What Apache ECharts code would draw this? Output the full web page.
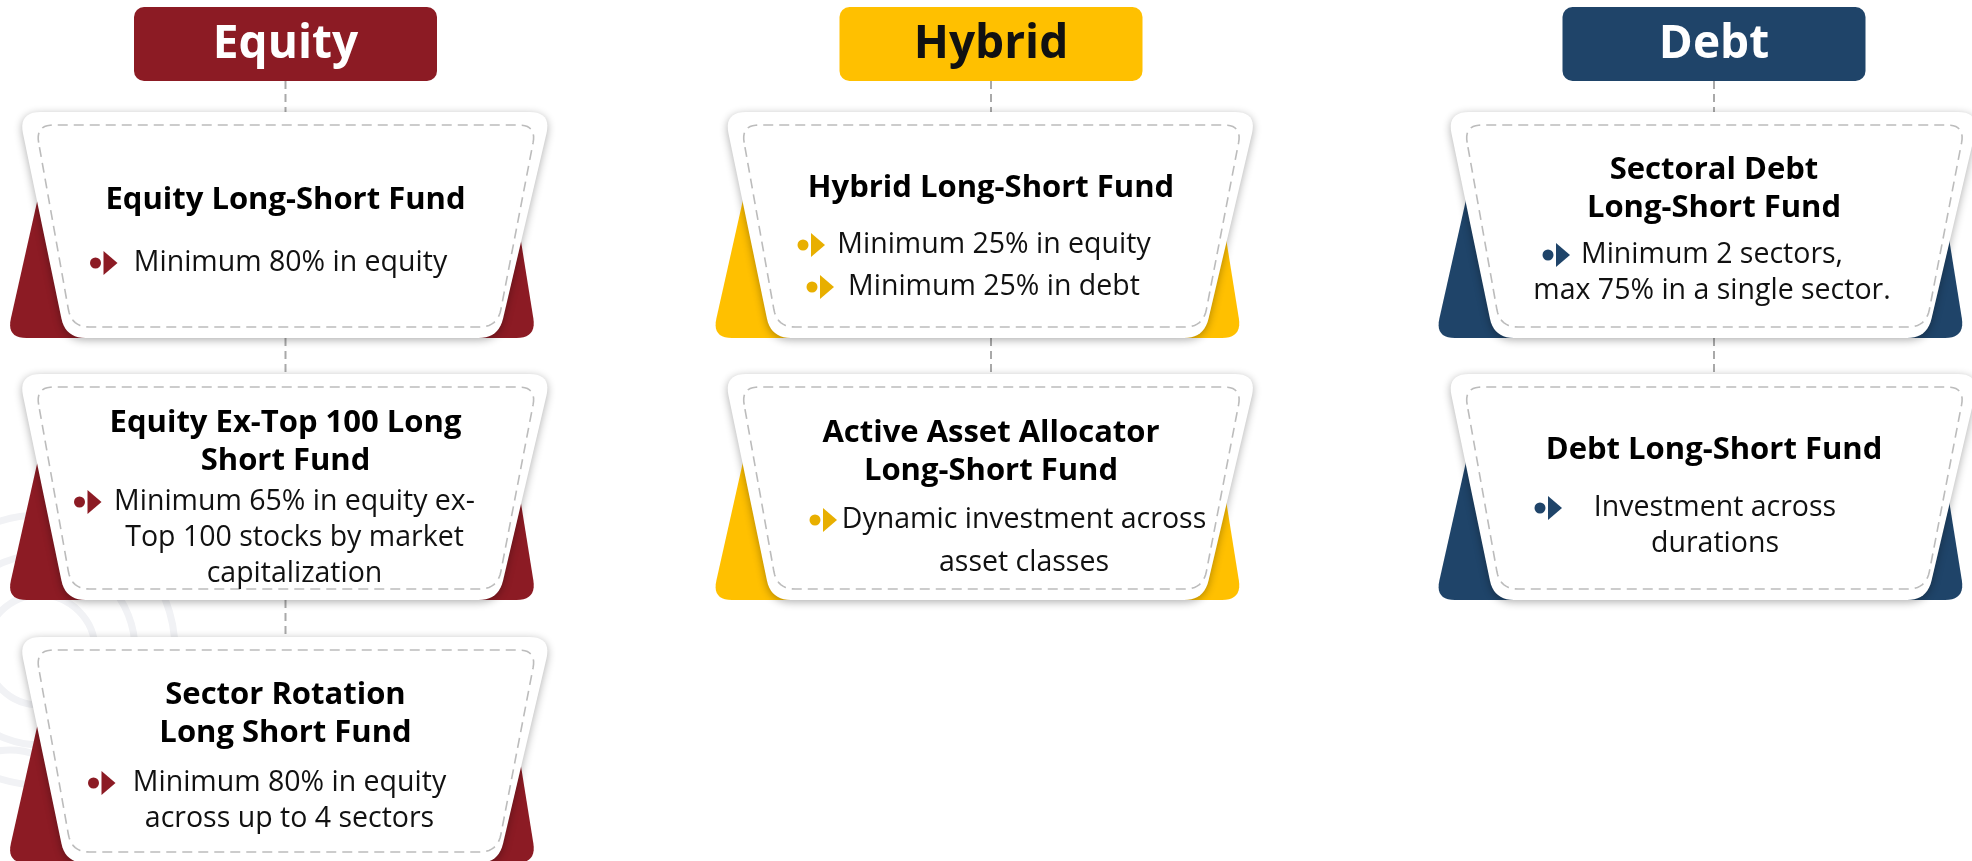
<!DOCTYPE html>
<html>
<head>
<meta charset="utf-8">
<title>Long-Short Fund categories</title>
<script src="https://cdn.jsdelivr.net/npm/echarts@6/dist/echarts.min.js"></script>
<style>
  html, body { margin: 0; padding: 0; background: #ffffff; }
  #chart { width: 1972px; height: 861px; }
</style>
</head>
<body>
<div id="chart"></div>
<script>
// --- content ---
var categories = ['Equity', 'Hybrid', 'Debt'];
var categoryColors = ['#8c1b24', '#ffc000', '#1f4469'];
var headerTextColors = ['#ffffff', '#111111', '#ffffff'];
var iconColors = ['#8c1b24', '#e8af00', '#1f4469'];

var equityFunds = ['Equity Long-Short Fund', 'Equity Ex-Top 100 Long\nShort Fund', 'Sector Rotation\nLong Short Fund'];
var hybridFunds = ['Hybrid Long-Short Fund', 'Active Asset Allocator\nLong-Short Fund'];
var debtFunds = ['Sectoral Debt\nLong-Short Fund', 'Debt Long-Short Fund'];

var equityRules = [['Minimum 80% in equity'], ['Minimum 65% in equity ex-\nTop 100 stocks by market\ncapitalization'], ['Minimum 80% in equity\nacross up to 4 sectors']];
var hybridRules = [['Minimum 25% in equity', 'Minimum 25% in debt'], ['Dynamic investment across\nasset classes']];
var debtRules = [['Minimum 2 sectors,\nmax 75% in a single sector.'], ['Investment across\ndurations']];

var funds = [equityFunds, hybridFunds, debtFunds];
var rules = [equityRules, hybridRules, debtRules];

// --- layout (pixels) ---
var colX = [285.5, 991, 1714];
var rowTop = [112, 374, 637];
var cardH = 226;
// per card: title first-line offset, bullet first-line offsets, text centre shift, icon x shift
var cardLayout = [
  [
    { title: 88, bullets: [151], dx: 5, icon: [-190] },
    { title: 49, bullets: [128], dx: 9, icon: [-206] },
    { title: 58, bullets: [146], dx: 4, icon: [-192] }
  ],
  [
    { title: 76, bullets: [133, 175], dx: 3, icon: [-188], icon2: -179 },
    { title: 59, bullets: [146], dx: 33, icon: [-176] }
  ],
  [
    { title: 58, bullets: [143], dx: -2, icon: [-166] },
    { title: 76, bullets: [134], dx: 1, icon: [-174] }
  ]
];
cardLayout[1][0].icon.push(cardLayout[1][0].icon2);
var titleLH = 38, ruleLH = 36;
var hybridRuleLH = 43;
var titleFont = 'bold 31px "Open Sans", sans-serif';
var ruleFont = '28.5px "Open Sans", sans-serif';

function roundPoly(pts, r) {
  var out = [];
  var n = pts.length;
  for (var i = 0; i < n; i++) {
    var P = pts[i], A = pts[(i - 1 + n) % n], B = pts[(i + 1) % n];
    var rr = Array.isArray(r) ? r[i] : r;
    var ax = A[0] - P[0], ay = A[1] - P[1], la = Math.sqrt(ax * ax + ay * ay);
    var bx = B[0] - P[0], by = B[1] - P[1], lb = Math.sqrt(bx * bx + by * by);
    if (rr <= 0) { out.push(P); continue; }
    var p1 = [P[0] + ax / la * rr, P[1] + ay / la * rr];
    var p2 = [P[0] + bx / lb * rr, P[1] + by / lb * rr];
    for (var s = 0; s <= 10; s++) {
      var t = s / 10, u = 1 - t;
      out.push([u * u * p1[0] + 2 * u * t * P[0] + t * t * p2[0],
                u * u * p1[1] + 2 * u * t * P[1] + t * t * p2[1]]);
    }
  }
  return out;
}

function textEl(x, y, text, font, color, z) {
  return {
    type: 'text', x: x, y: y, z: z || 10,
    style: {
      text: text, font: font, fill: color,
      align: 'center', verticalAlign: 'middle',
      textAlign: 'center', textVerticalAlign: 'middle'
    }
  };
}

var elements = [];

// faint watermark rings on the left
[[40, 650, 55], [40, 650, 95], [40, 650, 135], [10, 820, 70]].forEach(function (c) {
  elements.push({
    type: 'circle', z: 0,
    shape: { cx: c[0], cy: c[1], r: c[2] },
    style: { fill: 'none', stroke: '#f1f2f5', lineWidth: 7 }
  });
});

categories.forEach(function (cat, ci) {
  var cx = colX[ci];
  var color = categoryColors[ci];

  // header box
  elements.push({
    type: 'rect', z: 5,
    shape: { x: cx - 151.5, y: 7, width: 303, height: 74, r: 10 },
    style: { fill: color }
  });
  elements.push(textEl(cx, 45, cat, 'bold 46px "Open Sans", sans-serif', headerTextColors[ci], 6));

  var n = funds[ci].length;
  // dashed connectors
  var prevBottom = 81;
  for (var k = 0; k < n; k++) {
    var top = rowTop[k];
    elements.push({
      type: 'line', z: 1,
      shape: { x1: cx, y1: prevBottom, x2: cx, y2: top },
      style: { stroke: '#a9a9a9', lineWidth: 2, lineDash: [8, 5] }
    });
    prevBottom = top + cardH;
  }

  funds[ci].forEach(function (name, ri) {
    var top = rowTop[ri];
    var bot = top + cardH;
    var lay = cardLayout[ci][ri];

    // coloured backing behind the card
    elements.push({
      type: 'polygon', z: 2,
      shape: { points: roundPoly([[cx - 244, top + 70], [cx + 226, top + 70], [cx + 251, bot], [cx - 279, bot]], [0, 0, 20, 20]) },
      style: { fill: color }
    });
    // white card
    elements.push({
      type: 'polygon', z: 3,
      shape: { points: roundPoly([[cx - 267, top], [cx + 266, top], [cx + 213, bot], [cx - 220, bot]], [22, 22, 20, 20]) },
      style: { fill: '#ffffff', shadowBlur: 8, shadowColor: 'rgba(0,0,0,0.32)', shadowOffsetY: 2 }
    });
    // dashed inner border
    elements.push({
      type: 'polygon', z: 4,
      shape: { points: roundPoly([[cx - 250, top + 13], [cx + 251, top + 13], [cx + 212, top + 215], [cx - 214, top + 215]], 18) },
      style: { fill: 'none', stroke: '#bcbcbc', lineWidth: 1.6, lineDash: [10, 6] }
    });

    // title lines
    name.split('\n').forEach(function (line, li) {
      elements.push(textEl(cx, top + lay.title + li * titleLH, line, titleFont, '#000000'));
    });

    // bullets
    rules[ci][ri].forEach(function (rule, bi) {
      var y0 = top + lay.bullets[bi];
      var lh = (ci === 1 && ri === 1) ? hybridRuleLH : ruleLH;
      rule.split('\n').forEach(function (line, li) {
        elements.push(textEl(cx + lay.dx, y0 + li * lh, line, ruleFont, '#111111'));
      });
      var dotX = cx + lay.icon[bi];
      elements.push({
        type: 'circle', z: 10,
        shape: { cx: dotX, cy: y0, r: 5.5 },
        style: { fill: iconColors[ci] }
      });
      elements.push({
        type: 'polygon', z: 10,
        shape: { points: [[dotX + 8, y0 - 12], [dotX + 22, y0], [dotX + 8, y0 + 12]] },
        style: { fill: iconColors[ci] }
      });
    });
  });
});

var chart = echarts.init(document.getElementById('chart'));
chart.setOption({
  backgroundColor: '#ffffff',
  animation: false,
  graphic: { elements: elements }
});
</script>
</body>
</html>
